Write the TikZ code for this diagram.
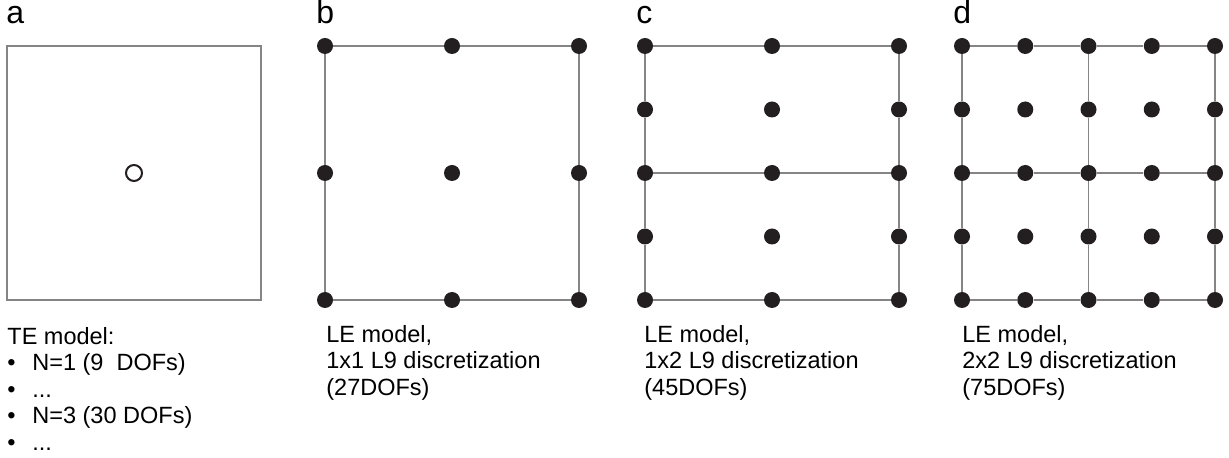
\documentclass[tikz,border=0pt]{standalone}
\usepackage{fontspec}
\setmainfont{Liberation Sans}
\definecolor{meshgray}{HTML}{858585}
\definecolor{dotblack}{HTML}{231F20}
\tikzset{
    mesh/.style={draw=meshgray, line width=0.65pt},
    dotnode/.style={circle, fill=dotblack, inner sep=0pt, minimum size=8pt},
    panellabel/.style={anchor=base west, inner sep=0pt, font=\fontsize{16}{18}\selectfont},
    caption/.style={anchor=north west, align=left, inner sep=0pt, font=\fontsize{11.75}{13.25}\selectfont},
}
\begin{document}
\begin{tikzpicture}[x=0.5pt, y=-0.5pt]
    \useasboundingbox (0,0) rectangle (1229,458);
    % panel letters
    \node[panellabel] (la) at (6,24) {a};
    \node[panellabel] (lb) at (316,24) {b};
    \node[panellabel] (lc) at (636,24) {c};
    \node[panellabel] (ld) at (953,24) {d};
    % a: TE model
    \draw[mesh] (7,46) rectangle (261,300);
    \node[circle, draw=dotblack, line width=1pt, fill=white, inner sep=0pt, minimum size=8pt] (te) at (134,173) {};
    % b: 1x1 L9
    \foreach \i in {0,1,2}
        \foreach \j in {0,1,2}
            \node[dotnode] (b-\i-\j) at ({325+127*\i},{46+127*\j}) {};
    \foreach \j in {0,2}
        \foreach \i/\k in {0/1,1/2}
            \draw[mesh] (b-\i-\j) -- (b-\k-\j);
    \foreach \i in {0,2}
        \foreach \j/\k in {0/1,1/2}
            \draw[mesh] (b-\i-\j) -- (b-\i-\k);
    % c: 1x2 L9
    \foreach \i in {0,1,2}
        \foreach \j in {0,...,4}
            \node[dotnode] (c-\i-\j) at ({645+127*\i},{46+63.5*\j}) {};
    \foreach \j in {0,2,4}
        \foreach \i/\k in {0/1,1/2}
            \draw[mesh] (c-\i-\j) -- (c-\k-\j);
    \foreach \i in {0,2}
        \foreach \j/\k in {0/1,1/2,2/3,3/4}
            \draw[mesh] (c-\i-\j) -- (c-\i-\k);
    % d: 2x2 L9
    \foreach \i in {0,...,4}
        \foreach \j in {0,...,4}
            \node[dotnode] (d-\i-\j) at ({962+63.25*\i},{46+63.5*\j}) {};
    \foreach \j in {0,2,4}
        \foreach \i/\k in {0/1,1/2,2/3,3/4}
            \draw[mesh] (d-\i-\j) -- (d-\k-\j);
    \foreach \i in {0,2,4}
        \foreach \j/\k in {0/1,1/2,2/3,3/4}
            \draw[mesh] (d-\i-\j) -- (d-\i-\k);
    % captions
    \node[caption] (capa) at (7,327) {TE model:\\
        \makebox[12.5pt][l]{•}N=1 (9\ \ DOFs)\\
        \makebox[12.5pt][l]{•}...\\
        \makebox[12.5pt][l]{•}N=3 (30 DOFs)\\
        \makebox[12.5pt][l]{•}...};
    \node[caption] (capb) at (326,325) {LE model,\\1x1 L9 discretization\\(27DOFs)};
    \node[caption] (capc) at (644,325) {LE model,\\1x2 L9 discretization\\(45DOFs)};
    \node[caption] (capd) at (962,325) {LE model,\\2x2 L9 discretization\\(75DOFs)};
\end{tikzpicture}
\end{document}
